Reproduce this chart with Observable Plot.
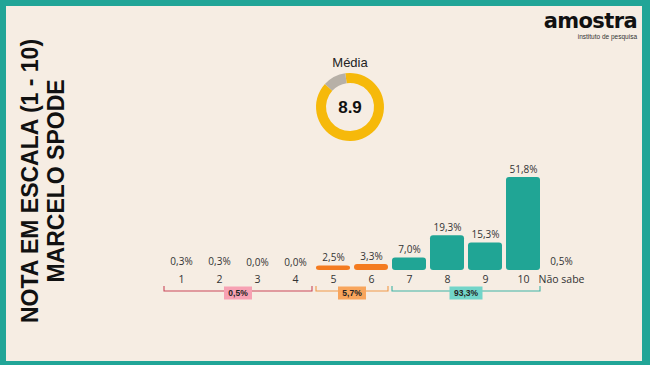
<!DOCTYPE html>
<html><head><meta charset="utf-8">
<script src="https://cdn.jsdelivr.net/npm/d3@7"></script>
<script src="https://cdn.jsdelivr.net/npm/@observablehq/plot@0.6"></script>
<style>
html,body{margin:0;padding:0;}
body{width:650px;height:365px;background:#21a597;position:relative;overflow:hidden;font-family:"Liberation Sans",Arial,sans-serif;}
#panel{position:absolute;left:6px;top:6px;width:636px;height:355px;background:#f6ede3;}
#title{position:absolute;left:-117px;top:155px;width:320px;height:52px;transform:rotate(-90deg);text-align:center;font-weight:bold;font-size:23px;line-height:26px;color:#111;white-space:nowrap;}
#logo{position:absolute;right:13px;top:10px;text-align:right;color:#111;}
#logo .l1{font-family:"DejaVu Sans",sans-serif;font-weight:bold;font-size:21px;letter-spacing:-0.6px;line-height:22px;}
#logo .l2{font-family:"Liberation Sans",Arial,sans-serif;font-size:6.5px;line-height:8px;color:#333;margin-top:1px;}
#chart{position:absolute;left:0;top:0;}
</style></head><body>
<div id="panel"></div>
<div id="title">NOTA EM ESCALA (1 - 10)<br>MARCELO SPODE</div>
<div id="logo"><div class="l1">amostra</div><div class="l2">instituto de pesquisa</div></div>
<div id="chart"></div>
<script>
const categories = ["1","2","3","4","5","6","7","8","9","10","Não sabe"];
const values = [0.3, 0.3, 0.0, 0.0, 2.5, 3.3, 7.0, 19.3, 15.3, 51.8, 0.5];
const groupOf = ["low","low","low","low","mid","mid","high","high","high","high","ns"];
const groupKeys = ["low","mid","high"];
const groupLabels = ["0,5%","5,7%","93,3%"];
const groupFrom = ["1","5","7"];
const groupTo = ["4","6","10"];
const meanLabel = "Média";
const meanScore = 8.9;
const meanMax = 10;

const fmt = v => v.toFixed(1).replace(".", ",") + "%";
const data = categories.map((c, i) => ({cat: c, value: values[i], group: groupOf[i], label: fmt(values[i])}));

const colorDomain = ["low","mid","high","ns"];
const colorRange = ["#d9534f","#f47b20","#20a595","#a8a29b"];
const lineColors = {low: "#c9485b", mid: "#f0994a", high: "#3fb3a5"};
const boxColors = {low: "#f7a1b3", mid: "#f8a55c", high: "#72d5c9"};

function bracketMark(index, scales) {
  const x = scales.x, y = scales.y;
  const bw = typeof x.bandwidth === "function" ? x.bandwidth() : 34.2;
  const g = d3.create("svg:g");
  const ly = y(0) + 21;
  groupKeys.forEach((k, i) => {
    const x1 = x(groupFrom[i]), x2 = x(groupTo[i]) + bw;
    g.append("path")
      .attr("d", `M${x1},${ly - 5}V${ly}H${x2}V${ly - 5}`)
      .attr("fill", "none").attr("stroke", lineColors[k]).attr("stroke-width", 1.1);
    const cx = (x1 + x2) / 2;
    const w = groupLabels[i].length * 5 + 8;
    g.append("rect").attr("x", cx - w / 2).attr("y", ly - 4.5).attr("width", w).attr("height", 13)
      .attr("fill", boxColors[k]);
    g.append("text").attr("x", cx).attr("y", ly + 2).attr("dy", "0.35em")
      .attr("text-anchor", "middle").attr("font-family", "Liberation Sans, Arial, sans-serif")
      .attr("font-weight", "bold").attr("font-size", 8.5).attr("fill", "#222")
      .text(groupLabels[i]);
  });
  return g.node();
}

function donutMark() {
  const cx = 350, cy = 107, r0 = 24, r1 = 34;
  const g = d3.create("svg:g").attr("transform", `translate(${cx},${cy})`);
  const start = -8 * Math.PI / 180;
  const pie = d3.pie().sort(null).startAngle(start).endAngle(start + 2 * Math.PI);
  const arcs = pie([meanScore, meanMax - meanScore]);
  const arc = d3.arc().innerRadius(r0).outerRadius(r1);
  const cols = ["#f6b90a", "#b7b0a7"];
  g.selectAll("path").data(arcs).join("path").attr("d", arc).attr("fill", (d, i) => cols[i]);
  g.append("text").attr("y", 0).attr("dy", "0.35em").attr("text-anchor", "middle")
    .attr("font-family", "Liberation Sans, Arial, sans-serif").attr("font-weight", "bold")
    .attr("font-size", 17).attr("fill", "#111").text(String(meanScore));
  g.append("text").attr("y", -45).attr("dy", "0.35em").attr("text-anchor", "middle")
    .attr("font-family", "Liberation Sans, Arial, sans-serif")
    .attr("font-size", 13).attr("fill", "#222").text(meanLabel);
  return g.node();
}

const plot = Plot.plot({
  width: 650, height: 365, margin: 0,
  style: {background: "transparent", overflow: "visible"},
  x: {type: "band", domain: categories, range: [159.8, 582.2], paddingInner: 0.11, paddingOuter: 0.055, axis: null},
  y: {domain: [0, 51.8], range: [270, 177], axis: null},
  color: {type: "ordinal", domain: colorDomain, range: colorRange},
  marks: [
    Plot.barY(data, {x: "cat", y: "value", fill: "group", rx: 3, filter: d => d.value >= 1}),
    Plot.text(data, {x: "cat", y: "value", text: "label", dy: -8, fontSize: 10, fill: "#333", fontFamily: "Open Sans"}),
    Plot.text(data, {x: "cat", y: 0, text: "cat", dy: 9, fontSize: 10.5, fill: "#333", fontFamily: "Open Sans"}),
    bracketMark,
    donutMark
  ]
});
document.getElementById("chart").appendChild(plot);
</script>
</body></html>
